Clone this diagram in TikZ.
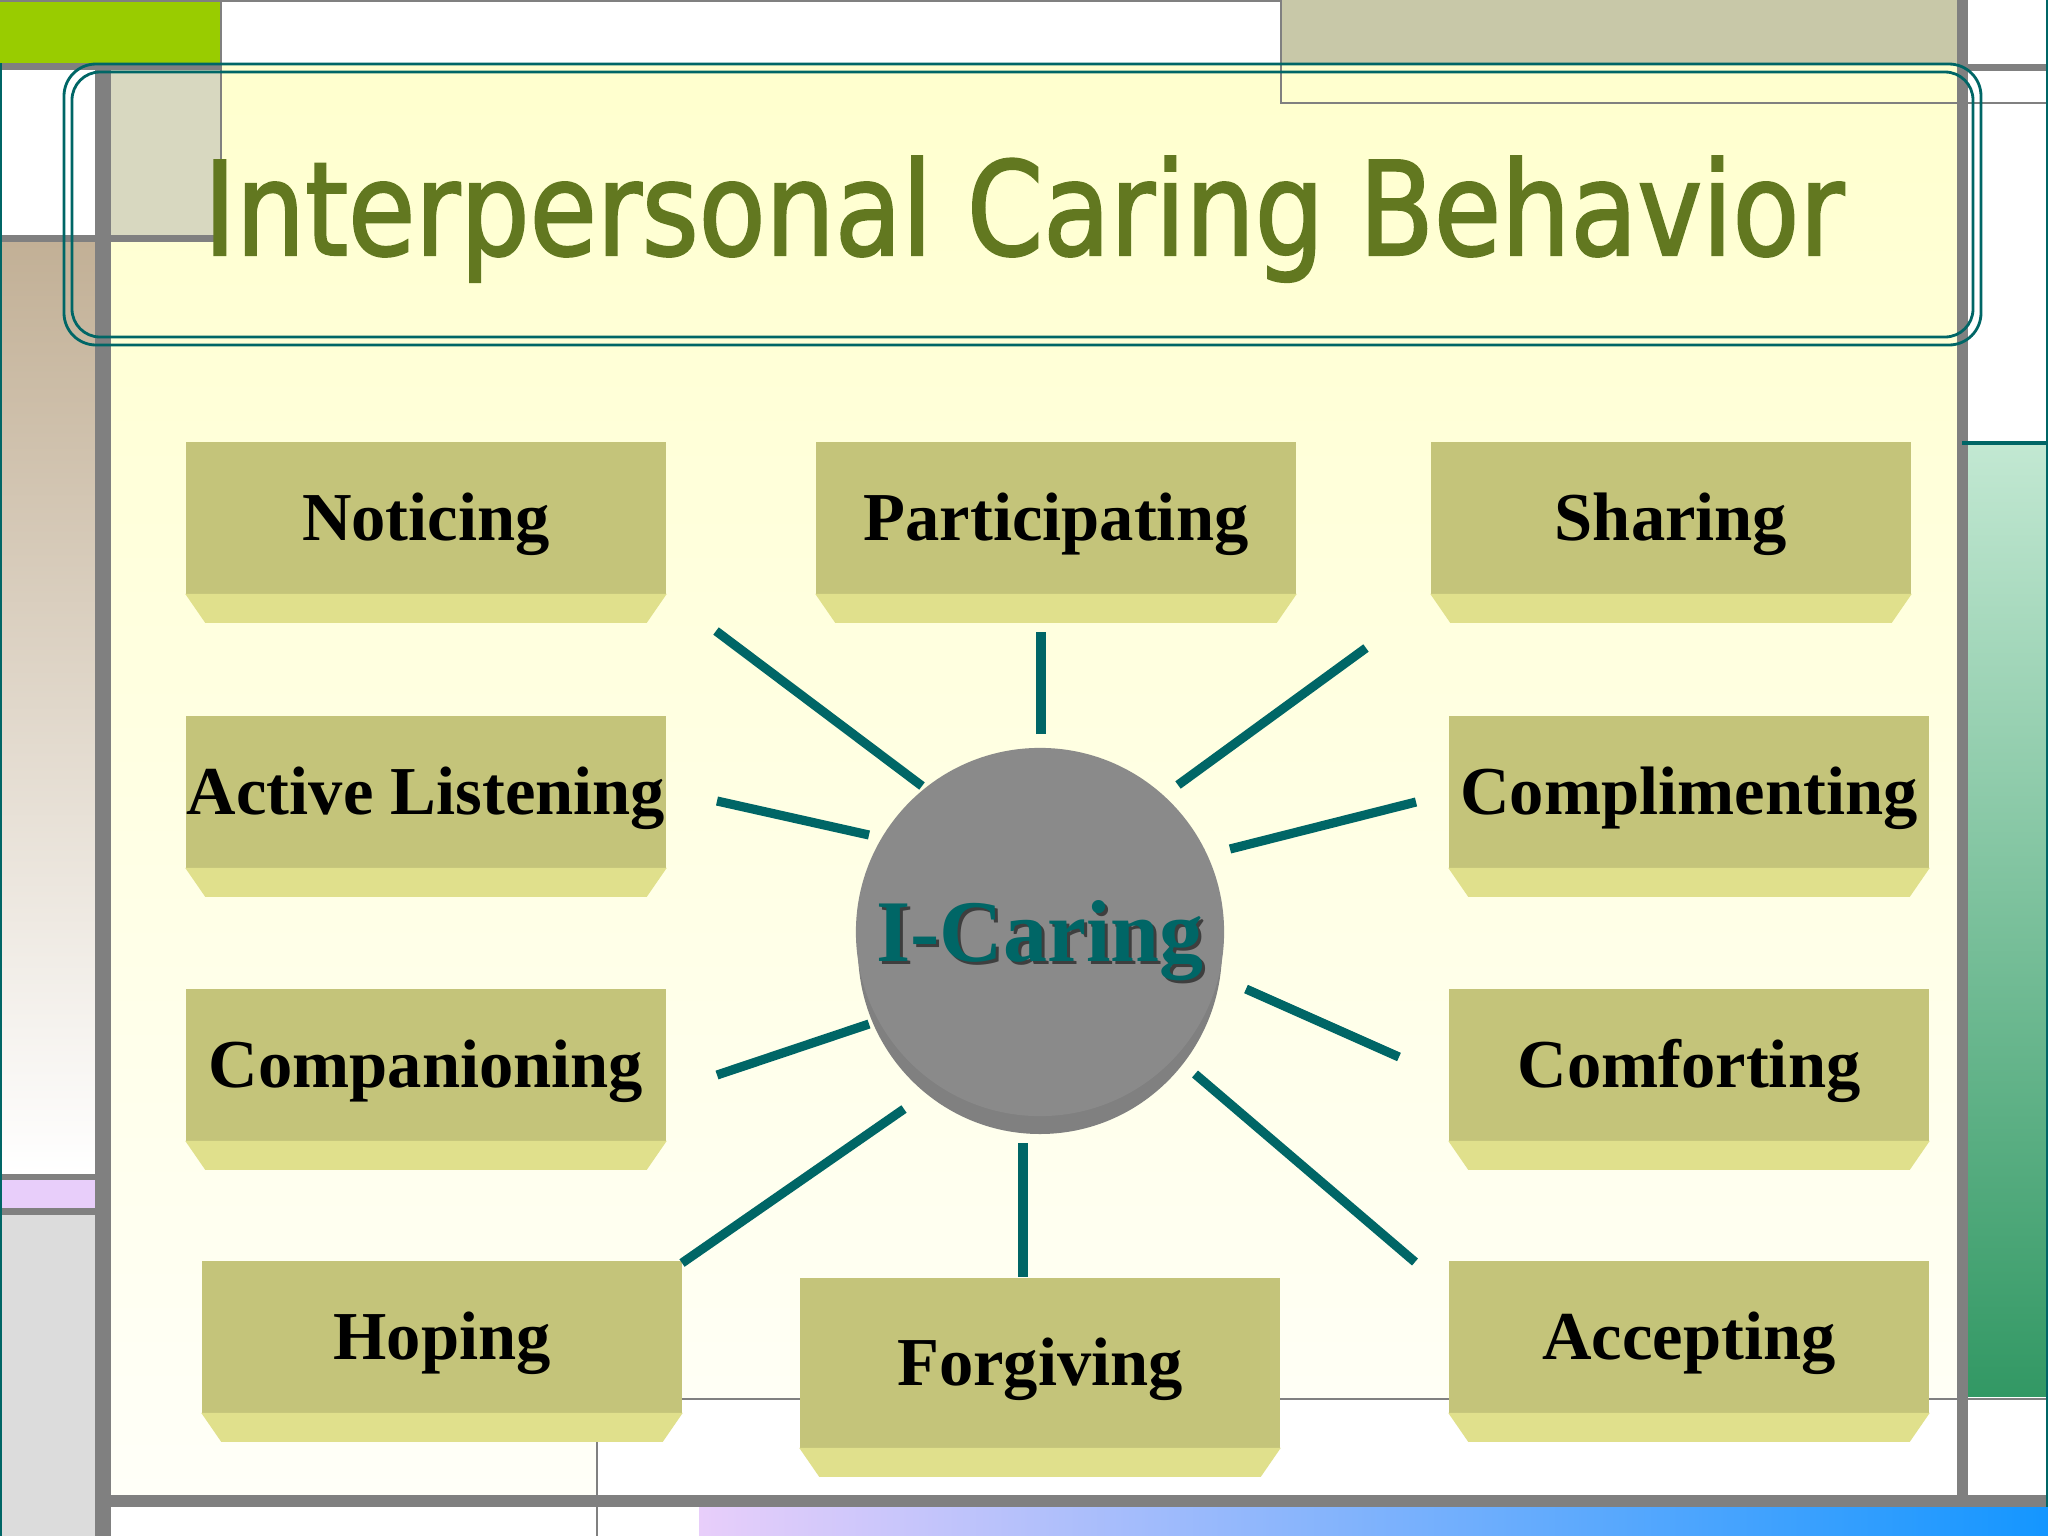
\documentclass[tikz,border=0pt]{standalone}
\usepackage{fontspec}
\setmainfont{Liberation Serif}
\newfontfamily\titlefont[FakeStretch=0.84,FakeBold=1.6]{DejaVu Sans}
\usetikzlibrary{shapes}

\definecolor{tealline}{RGB}{0,102,102}
\definecolor{olivetitle}{RGB}{98,120,32}
\definecolor{boxface}{RGB}{196,196,122}
\definecolor{boxbevel}{RGB}{224,224,140}
\definecolor{panelyellow}{RGB}{255,255,206}
\definecolor{panelwhite}{RGB}{255,255,248}
\definecolor{framegray}{RGB}{128,128,128}
\definecolor{limegreen}{RGB}{153,204,0}
\definecolor{beigelight}{RGB}{216,216,192}
\definecolor{beigedark}{RGB}{200,200,168}
\definecolor{tanside}{RGB}{194,176,150}
\definecolor{lilac}{RGB}{232,206,250}
\definecolor{paleside}{RGB}{220,220,220}
\definecolor{mint}{RGB}{194,232,210}
\definecolor{seagreen}{RGB}{50,152,100}
\definecolor{skyblue}{RGB}{20,150,255}
\definecolor{hubgray}{RGB}{138,138,138}
\definecolor{hubrim}{RGB}{128,128,128}

\tikzstyle{behav} = [rectangle, fill=boxface, minimum width=4.8cm, minimum height=1.52cm,
    inner sep=0pt, font=\fontsize{19.5}{22}\selectfont\bfseries, text height=12.9pt, text depth=0pt]
\tikzstyle{bevel} = [fill=boxbevel]
\tikzstyle{spoke} = [draw=tealline, line width=2.6pt]
\tikzstyle{thinframe} = [draw=framegray, line width=0.8pt]
\tikzstyle{hublabel} = [font=\fontsize{25}{30}\selectfont\bfseries, text height=16.5pt, text depth=0pt, inner sep=0pt]

\begin{document}
\begin{tikzpicture}[x=0.01cm, y=-0.01cm]
        \useasboundingbox (0,0) rectangle (2048,1536);
        \fill[white] (0,0) rectangle (2048,1536);

        % 1. Slide background: panels and frame bars
        \fill[limegreen] (0,0) rectangle (220,63);
        \fill[beigedark] (1280,0) rectangle (1957,63);
        \shade[top color=panelyellow, bottom color=panelwhite] (111,63) rectangle (1957,1495);
        \fill[white] (597,1399) rectangle (1957,1495);
        \fill[beigelight] (111,70) rectangle (220,235);
        \shade[top color=tanside, bottom color=white] (0,242) rectangle (95,1174);
        \fill[lilac] (0,1180) rectangle (95,1208);
        \fill[paleside] (0,1215) rectangle (95,1536);
        \shade[top color=mint, bottom color=seagreen] (1968,445) rectangle (2046,1396);
        \shade[left color=lilac, right color=skyblue] (699,1507) rectangle (2048,1536);

        \fill[framegray] (95,63) rectangle (111,1536);
        \fill[framegray] (1957,0) rectangle (1968,1507);
        \fill[framegray] (95,1495) rectangle (2048,1507);
        \fill[framegray] (0,63) rectangle (222,70);
        \fill[framegray] (1968,64) rectangle (2048,71);
        \fill[framegray] (0,235) rectangle (220,242);
        \fill[framegray] (0,1174) rectangle (95,1180);
        \fill[framegray] (0,1208) rectangle (95,1215);
        \draw[thinframe] (0,1) -- (1280,1);
        \draw[thinframe] (221,0) -- (221,240);
        \draw[thinframe] (1281,0) -- (1281,103) -- (2048,103);
        \draw[thinframe] (597,1536) -- (597,1399) -- (2048,1399);
        \draw[tealline, line width=0.9pt] (1962,443) -- (2048,443);
        \draw[tealline, line width=0.5pt] (1,63) -- (1,1536);
        \draw[tealline, line width=0.5pt] (2047,0) -- (2047,1507);

        % 2. Title
        \draw[tealline, line width=0.8pt, rounded corners=0.32cm] (64,64) rectangle (1981,345);
        \draw[tealline, line width=0.8pt, rounded corners=0.28cm] (72,72) rectangle (1973,337);
        \node[anchor=base, text=olivetitle, font=\titlefont\fontsize{37}{44}\selectfont] (title)
            at (1024,255) {Interpersonal Caring Behavior};

        % 3. Behaviour boxes
        \node[behav] (notice) at (426,518) {Noticing};
        \node[behav] (partic) at (1056,518) {Participating};
        \node[behav] (share) at (1671,518) {Sharing};
        \node[behav] (listen) at (426,792) {Active Listening};
        \node[behav] (compl) at (1689,792) {Complimenting};
        \node[behav] (compan) at (426,1065) {Companioning};
        \node[behav] (comfort) at (1689,1065) {Comforting};
        \node[behav] (hope) at (442,1337) {Hoping};
        \node[behav, minimum height=1.70cm] (forgive) at (1040,1363) {Forgiving};
        \node[behav] (accept) at (1689,1337) {Accepting};
        \foreach \b in {notice,partic,share,listen,compl,compan,comfort,hope,forgive,accept}
            \fill[bevel] ([shift={(0,-1)}]\b.south west) -- ([shift={(0,-1)}]\b.south east)
                -- ([shift={(-20,28)}]\b.south east) -- ([shift={(20,28)}]\b.south west) -- cycle;

        % 4. Spokes round the hub
        \coordinate (tip-notice) at (716,631);    \coordinate (root-notice) at (922,786);
        \coordinate (tip-partic) at (1041,632);   \coordinate (root-partic) at (1041,734);
        \coordinate (tip-share) at (1366,648);    \coordinate (root-share) at (1178,785);
        \coordinate (tip-listen) at (717,801);    \coordinate (root-listen) at (869,835);
        \coordinate (tip-compl) at (1416,802);    \coordinate (root-compl) at (1230,849);
        \coordinate (tip-comfort) at (1399,1057); \coordinate (root-comfort) at (1246,989);
        \coordinate (tip-compan) at (717,1075);   \coordinate (root-compan) at (869,1024);
        \coordinate (tip-hope) at (682,1263);     \coordinate (root-hope) at (904,1109);
        \coordinate (tip-forgive) at (1023,1277); \coordinate (root-forgive) at (1023,1143);
        \coordinate (tip-accept) at (1415,1262);  \coordinate (root-accept) at (1195,1074);
        \foreach \s in {notice,partic,share,listen,compl,comfort,compan,hope,forgive,accept}
            \path[spoke] (root-\s) -- (tip-\s);

        % 5. Hub
        \fill[hubrim] (1040,950) ellipse [x radius=182, y radius=184];
        \node[circle, fill=hubgray, minimum size=3.68cm, inner sep=0pt] (hub) at (1040,932) {};
        \node[hublabel, text=black, opacity=0.55] (hubshade) at ([shift={(3,3)}]hub.center) {I-Caring};
        \node[hublabel, text=tealline] (hubtext) at (hub.center) {I-Caring};

\end{tikzpicture}
\end{document}
